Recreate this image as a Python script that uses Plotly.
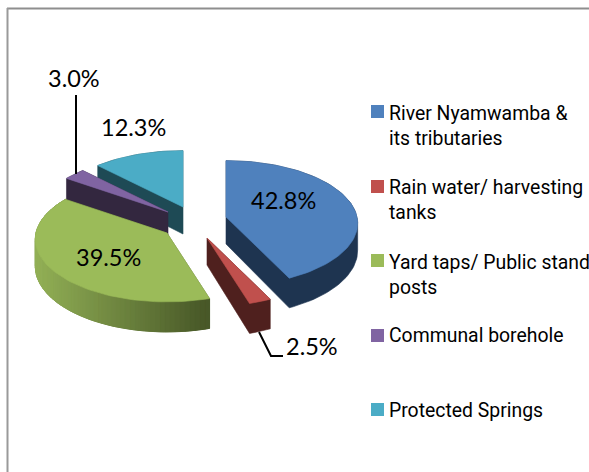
import math
import plotly.graph_objects as go

# Survey shares, in percent
categories = ["River Nyamwamba &<br>its tributaries", "Rain water/ harvesting<br>tanks",
              "Yard taps/ Public stand<br>posts", "Communal borehole", "Protected Springs"]
values = [42.8, 2.5, 39.5, 3.0, 12.3]
value_labels = ["42.8%", "2.5%", "39.5%", "3.0%", "12.3%"]

# Styling and layout of the exploded pie
top_colors = ["#4f81bd", "#c0504d", "#9bbb59", "#8064a2", "#4bacc6"]
side_colors = ["#1e3450", "#4f201e", "#5f7336", "#33273f", "#1e4a55"]
apexes = [(226, 217), (207, 238), (167, 233), (168, 212), (183, 207)]
draw_order = [4, 3, 2, 0, 1]
label_xy = [(283, 200), (312, 346), (108, 257), (74, 78), (133, 127)]
legend_y = [111.5, 186.5, 260.5, 335.5, 409.5]
legend_text_y = [125.5, 200, 274.5, 335, 410]

RX, RY, DEPTH, PERSPECTIVE = 131, 62, 27, 0.1


def project(cx, cy, deg):
    """Place a rim point of the tilted disc; returns (x, y_top, y_bottom)."""
    a = math.radians(deg)
    s = 1 / (1 + PERSPECTIVE * math.cos(a))
    return cx + RX * math.sin(a) * s, cy - RY * math.cos(a) * s, DEPTH * s


def hull(points):
    pts = sorted(set(points))

    def half(seq):
        out = []
        for p in seq:
            while len(out) > 1 and ((out[-1][0] - out[-2][0]) * (p[1] - out[-2][1])
                                    - (out[-1][1] - out[-2][1]) * (p[0] - out[-2][0])) <= 0:
                out.pop()
            out.append(p)
        return out[:-1]

    return half(pts) + half(pts[::-1])


def polygon(points, color, line=0.6):
    xs = [p[0] for p in points] + [points[0][0]]
    ys = [p[1] for p in points] + [points[0][1]]
    return go.Scatter(x=xs, y=ys, mode="lines", fill="toself", fillcolor=color,
                      line=dict(color=color, width=line), hoverinfo="skip", showlegend=False)


def mix(c1, c2, t):
    return "rgb(%d,%d,%d)" % tuple(c1[i] + (c2[i] - c1[i]) * t for i in range(3))


fig = go.Figure()

total = sum(values)
starts, acc = [], 0.0
for v in values:
    starts.append(acc)
    acc += 360 * v / total

for i in draw_order:
    cx, cy = apexes[i]
    start, sweep = starts[i], 360 * values[i] / total
    steps = max(4, int(sweep / 2))
    angles = [start + sweep * k / steps for k in range(steps + 1)]
    rim = [project(cx, cy, a) for a in angles]
    top = [(cx, cy)] + [(x, y) for x, y, _ in rim]
    bottom = [(cx, cy + DEPTH)] + [(x, y + d) for x, y, d in rim]
    fig.add_trace(polygon(hull(top + bottom), side_colors[i]))
    # The large green slice has a shaded outer wall
    if i == 2:
        for a, b in zip(rim, rim[1:]):
            t = min(1, max(0, (a[0] - 38) / 170))
            quad = [(a[0], a[1]), (b[0], b[1]), (b[0], b[1] + b[2]), (a[0], a[1] + a[2])]
            fig.add_trace(polygon(quad, mix((146, 176, 86), (72, 88, 40), t), 1))
    fig.add_trace(polygon(top, top_colors[i]))

# Leader lines for the two small slices
for xs, ys in [((76, 76), (95, 174)), ((259, 271, 283), (332, 356, 356))]:
    fig.add_trace(go.Scatter(x=list(xs), y=list(ys), mode="lines",
                             line=dict(color="#000000", width=2),
                             hoverinfo="skip", showlegend=False))

# Legend swatches
fig.add_trace(go.Scatter(x=[377.5] * 5, y=legend_y, mode="markers",
                         marker=dict(symbol="square", size=13, color=top_colors, line=dict(width=0)),
                         hoverinfo="skip", showlegend=False))

annotations = []
for text, (x, y) in zip(value_labels, label_xy):
    annotations.append(dict(x=x, y=y, text=text, showarrow=False, xanchor="center", yanchor="middle",
                            font=dict(family="Lato", size=23.5, color="#000000")))
for text, y in zip(categories, legend_text_y):
    annotations.append(dict(x=387, y=y, text=text, showarrow=False, xanchor="left", yanchor="middle",
                            align="left",
                            font=dict(family="Roboto", size=19.4, color="#000000")))

# Chart frame, open on the right and at the bottom
frame = [dict(type="line", x0=7, y0=8.5, x1=589, y1=8.5, line=dict(color="#8e8e8e", width=2)),
         dict(type="line", x0=7.5, y0=8, x1=7.5, y1=472, line=dict(color="#9a9a9a", width=2))]

fig.update_layout(width=589, height=472, margin=dict(l=0, r=0, t=0, b=0), autosize=False,
                  paper_bgcolor="#ffffff", plot_bgcolor="#ffffff", showlegend=False,
                  xaxis=dict(range=[0, 589], visible=False, fixedrange=True),
                  yaxis=dict(range=[472, 0], visible=False, fixedrange=True),
                  annotations=annotations, shapes=frame)

fig.write_html("out.html", config=dict(displayModeBar=False))
